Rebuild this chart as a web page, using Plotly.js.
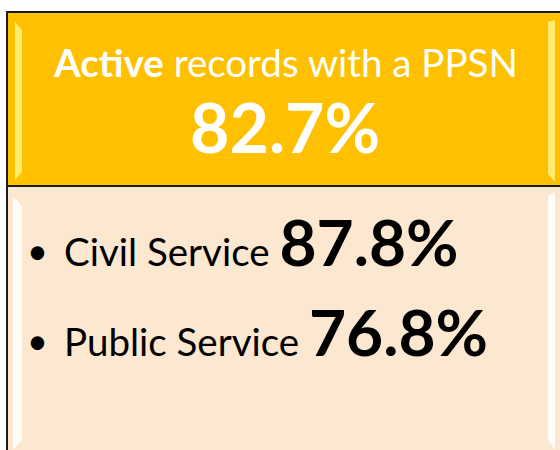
<!DOCTYPE html>
<html><head><meta charset="utf-8">
<script src="https://cdn.plot.ly/plotly-3.0.1.min.js"></script>
<style>html,body{margin:0;padding:0;background:#fff;}</style>
</head><body><div id="chart" style="width:560px;height:450px;"></div>
<script>
const headlineBold = "Active";
const headlineRest = "records with a PPSN";
const headlineValue = "82.7%";
const categories = ["Civil Service", "Public Service"];
const values = ["87.8%", "76.8%"];

const FONT = "Lato, 'Open Sans', sans-serif";
const shapes = [
  {type:'rect', x0:7, x1:580, y0:186, y1:470, fillcolor:'#FCE7D0', line:{color:'#1a1a1a', width:2}},
  {type:'rect', x0:7, x1:580, y0:12, y1:186, fillcolor:'#FFC000', line:{color:'#1a1a1a', width:2}},
  {type:'path', path:'M 15 22 L 22 30 L 22 172 L 15 180 Z', fillcolor:'rgba(255,250,150,0.75)', line:{width:0}},
  {type:'path', path:'M 548 22 L 555 20 L 555 182 L 548 174 Z', fillcolor:'rgba(255,250,150,0.75)', line:{width:0}},
  {type:'path', path:'M 13 196 L 22 206 L 22 440 L 13 450 Z', fillcolor:'rgba(255,255,255,0.85)', line:{width:0}},
  {type:'path', path:'M 548 196 L 555 192 L 555 450 L 548 440 Z', fillcolor:'rgba(255,255,255,0.85)', line:{width:0}}
];

const annotations = [
  {x:285, y:62, text:'<b>'+headlineBold+'</b> '+headlineRest, showarrow:false, xanchor:'center', yanchor:'middle',
   font:{family:FONT, size:38.5, color:'#ffffff'}},
  {x:285, y:126, text:'<b>'+headlineValue+'</b>', showarrow:false, xanchor:'center', yanchor:'middle',
   font:{family:FONT, size:68, color:'#ffffff'}}
];
const rowY = [241, 331];
categories.forEach((c, i) => {
  annotations.push({x:37, y:rowY[i]+9, text:'•', showarrow:false, xanchor:'center', yanchor:'middle',
    font:{family:FONT, size:36, color:'#000'}});
  annotations.push({x:62, y:rowY[i], text:c+' <span style="font-size:64px"><b>'+values[i]+'</b></span>', showarrow:false,
    xanchor:'left', yanchor:'middle', font:{family:FONT, size:38.5, color:'#000'}});
});

Plotly.newPlot('chart', [], {
  width:560, height:450, margin:{l:0,r:0,t:0,b:0},
  paper_bgcolor:'#ffffff', plot_bgcolor:'#ffffff',
  xaxis:{range:[0,560], visible:false, fixedrange:true},
  yaxis:{range:[450,0], visible:false, fixedrange:true},
  shapes: shapes, annotations: annotations, showlegend:false
}, {displayModeBar:false, staticPlot:true});
</script></body></html>
